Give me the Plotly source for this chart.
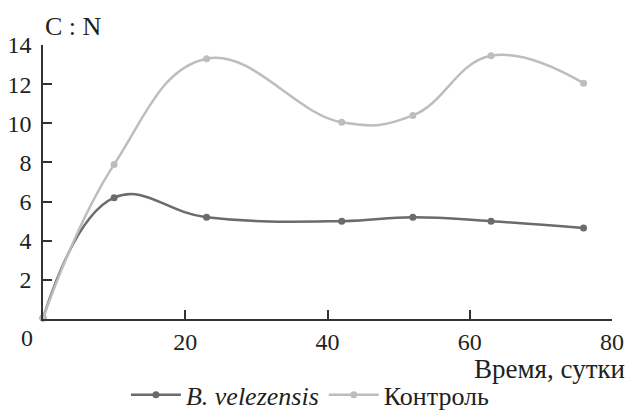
import plotly.graph_objects as go

days = [0, 10, 23, 42, 52, 63, 76]
velezensis = [0.05, 6.2, 5.2, 5.0, 5.2, 5.0, 4.65]
control = [0.05, 7.9, 13.3, 10.05, 10.4, 13.45, 12.05]
x_ticks = [20, 40, 60, 80]
y_ticks = [2, 4, 6, 8, 10, 12, 14]

DARK = "#6a6a6f"
LIGHT = "#bdbdc1"
FONT = "Liberation Serif"
TXT = "#231f20"

fig = go.Figure()
fig.add_trace(go.Scatter(
    x=days, y=velezensis, name="<i>B. velezensis</i>", mode="lines+markers",
    line=dict(color=DARK, width=2.5, shape="spline", smoothing=1.2),
    marker=dict(color=DARK, size=7), cliponaxis=False))
fig.add_trace(go.Scatter(
    x=days, y=control, name="Контроль", mode="lines+markers",
    line=dict(color=LIGHT, width=2.5, shape="spline", smoothing=1.2),
    marker=dict(color=LIGHT, size=7), cliponaxis=False))

fig.update_layout(
    width=628, height=411,
    margin=dict(l=43, r=16, t=45, b=92, autoexpand=False),
    paper_bgcolor="white", plot_bgcolor="white",
    font=dict(family=FONT, size=24, color=TXT),
    showlegend=True,
    legend=dict(orientation="h", x=0.47, xanchor="center", y=-0.277, yanchor="middle",
                font=dict(family=FONT, size=26, color=TXT), itemwidth=50, tracegroupgap=0,
                bgcolor="rgba(0,0,0,0)"),
    xaxis=dict(range=[0, 80], tickvals=x_ticks, ticks="inside", ticklen=9,
               tickcolor="#333", tickwidth=1.5, showline=True, linecolor="#333",
               linewidth=1.5, showgrid=False, zeroline=False,
               ticklabelstandoff=0, tickfont=dict(family=FONT, size=24, color=TXT)),
    yaxis=dict(range=[0, 14], tickvals=y_ticks, ticks="inside", ticklen=9,
               tickcolor="#333", tickwidth=1.5, showline=True, linecolor="#333",
               linewidth=1.5, showgrid=False, zeroline=False,
               ticklabelstandoff=5, tickfont=dict(family=FONT, size=24, color=TXT)),
    annotations=[
        dict(text="C : N", xref="paper", yref="paper", x=0, y=1.069,
             xanchor="left", yanchor="middle", showarrow=False,
             font=dict(family=FONT, size=26, color=TXT)),
        dict(text="Время, сутки", xref="paper", yref="paper", x=1.026, y=-0.183,
             xanchor="right", yanchor="middle", showarrow=False,
             font=dict(family=FONT, size=27, color=TXT)),
        dict(text="0", xref="x", yref="paper", x=0, y=0, xshift=-16, yshift=-19,
             xanchor="center", yanchor="middle", showarrow=False,
             font=dict(family=FONT, size=24, color=TXT)),
    ],
)

fig.write_html("out.html")
